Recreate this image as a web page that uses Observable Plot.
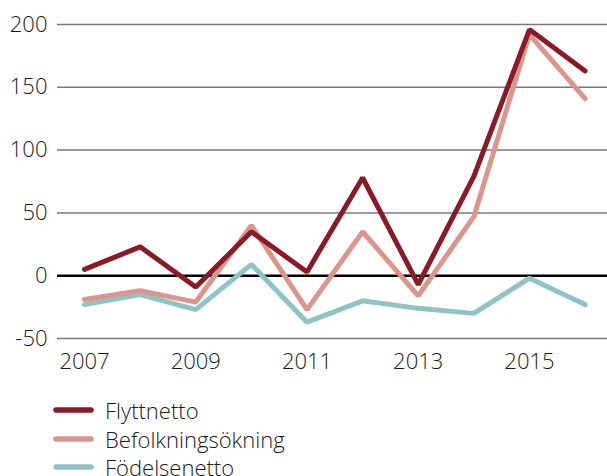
<!DOCTYPE html>
<html>
<head>
<meta charset="utf-8">
<script src="https://cdn.jsdelivr.net/npm/d3@7"></script>
<script src="https://cdn.jsdelivr.net/npm/@observablehq/plot@0.6"></script>
<style>
  body { margin: 0; background: #fff; font-family: "Open Sans", sans-serif; }
  #chart svg { display: block; }
  .legend { margin: 0; padding: 6px 0 0 53px; }
  .row { display: flex; align-items: center; height: 28.5px; font-size: 22px; font-weight: 350; color: #1a1a1a; }
  .row svg { margin-right: 11px; }
</style>
</head>
<body>
<div id="chart"></div>
<div class="legend" id="legend"></div>
<script>
const years = [2007, 2008, 2009, 2010, 2011, 2012, 2013, 2014, 2015, 2016];
const flyttnetto = [5, 23, -9, 35, 3, 78, -7, 79, 196, 163];
const befolkningsokning = [-19, -12, -21, 40, -27, 35, -16, 47, 192, 141];
const fodelsenetto = [-23, -15, -27, 9, -37, -20, -26, -30, -2, -23];
const seriesNames = ["Flyttnetto", "Befolkningsökning", "Födelsenetto"];
const colors = ["#8b1a27", "#dc958c", "#8ec5c4"];
const yTicks = [-50, 0, 50, 100, 150, 200];
const xTicks = [2007, 2009, 2011, 2013, 2015];

const seriesValues = [flyttnetto, befolkningsokning, fodelsenetto];
const data = [];
// draw order: Födelsenetto first, Flyttnetto on top
[2, 1, 0].forEach(i => {
  years.forEach((y, j) => data.push({year: y, value: seriesValues[i][j], series: seriesNames[i]}));
});

const chart = Plot.plot({
  width: 607,
  height: 390,
  marginLeft: 57,
  marginRight: 0,
  marginTop: 24,
  marginBottom: 52,
  style: { fontFamily: "'Open Sans', sans-serif", fontSize: "22px", fontWeight: 350, color: "#1a1a1a", background: "#fff" },
  x: { domain: [2006.514, 2016.403], ticks: xTicks, tickFormat: d => String(d), tickSize: 0, tickPadding: 15, label: null },
  y: { domain: [-50, 200], ticks: yTicks, tickFormat: d => String(d), tickSize: 0, tickPadding: 10, label: null },
  color: { domain: seriesNames, range: colors },
  marks: [
    Plot.ruleY(yTicks.filter(d => d !== 0), { stroke: "#7a7a7a", strokeWidth: 1.5 }),
    Plot.ruleY([0], { stroke: "#000", strokeWidth: 2.5 }),
    Plot.line(data, { x: "year", y: "value", z: "series", stroke: "series", strokeWidth: 5, strokeLinecap: "round", strokeLinejoin: "miter" })
  ]
});
document.getElementById("chart").appendChild(chart);

const legend = document.getElementById("legend");
seriesNames.forEach((name, i) => {
  const row = document.createElement("div");
  row.className = "row";
  row.innerHTML = `<svg width="41" height="8"><line x1="3" y1="4" x2="38" y2="4" stroke="${colors[i]}" stroke-width="5.5" stroke-linecap="round"/></svg><span>${name}</span>`;
  legend.appendChild(row);
});
</script>
</body>
</html>
